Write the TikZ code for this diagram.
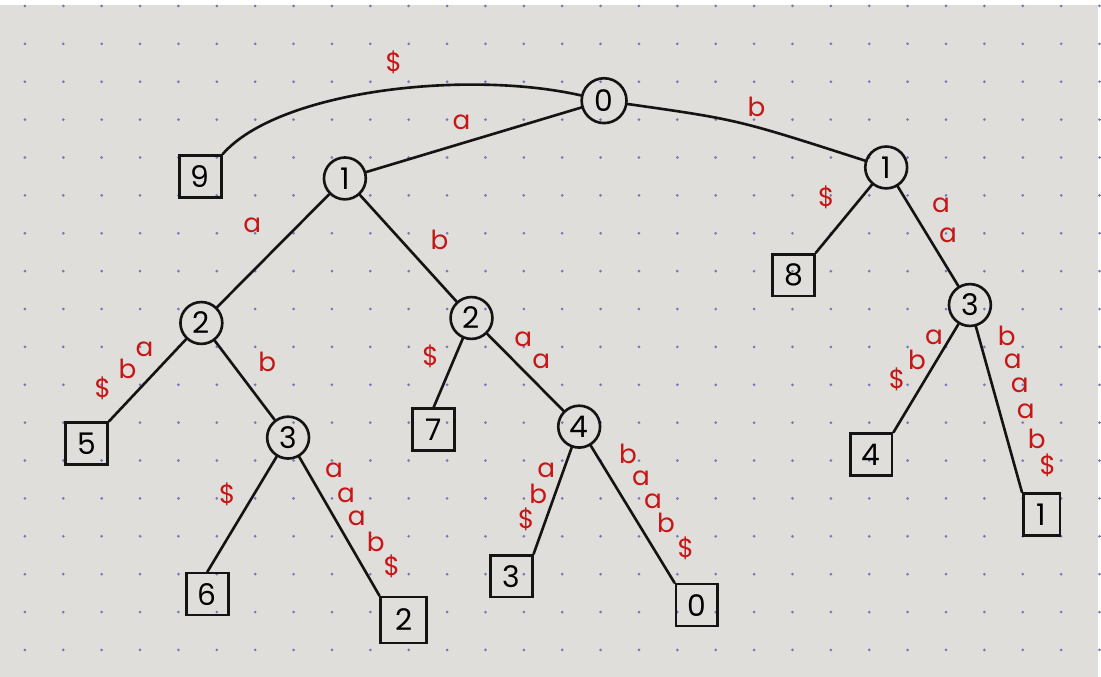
\documentclass[tikz,border=0pt]{standalone}
\usepackage{fontspec}
\setmainfont{Poppins}
\usetikzlibrary{calc}

\definecolor{paper}{RGB}{223,222,218}
\definecolor{dotc}{RGB}{120,120,185}
\definecolor{ink}{RGB}{20,20,20}
\definecolor{pen}{RGB}{198,22,22}

\begin{document}
\begin{tikzpicture}[
                    x=0.02cm, y=-0.02cm, % one unit is one pixel of the sketch
                    inner/.style={circle, draw=ink, line width=1.5pt, minimum size=0.84cm, inner sep=0pt, font=\fontsize{17}{17}\selectfont},
                    leaf/.style={rectangle, draw=ink, line width=1.5pt, minimum size=0.84cm, inner sep=0pt, font=\fontsize{17}{17}\selectfont},
                    branch/.style={draw=ink, line width=1.5pt, line cap=round},
                    lbl/.style={text=pen, inner sep=0pt, font=\fontsize{15}{15}\selectfont}
                ]

                % paper and dot grid
                \fill[paper] (0,0) rectangle (1101,679);
                \fill[white] (0,0) rectangle (1101,5);
                \foreach \i in {0,...,28}
                    \foreach \j in {0,...,17}
                        \fill[dotc] (25+38.5*\i, 6+38*\j) circle (1.5);

                % internal nodes and leaves
                \node[inner, minimum size=0.9cm] (r0) at (606,101) {0};
                \node[leaf] (l9) at (201,177) {9};
                \node[inner] (a1) at (346,179) {1};
                \node[inner] (b1) at (889,168) {1};
                \node[leaf] (l8) at (796,276) {8};
                \node[inner] (b3) at (973,306) {3};
                \node[leaf] (l4) at (874,456) {4};
                \node[leaf, minimum width=0.74cm] (l1) at (1045,516) {1};
                \node[inner] (aa2) at (202,324) {2};
                \node[leaf] (l5) at (87,445) {5};
                \node[inner] (ab3) at (289,439) {3};
                \node[leaf] (l6) at (208,596) {6};
                \node[leaf, minimum size=0.92cm] (l2) at (405,622) {2};
                \node[inner] (ba2) at (473,319) {2};
                \node[leaf] (l7) at (435,431) {7};
                \node[inner] (bb4) at (581,428) {4};
                \node[leaf] (l3) at (513,578) {3};
                \node[leaf] (l0) at (699,607) {0};

                % branches
                \draw[branch] (r0) .. controls (470,70) and (280,90) .. (l9.north east);
                \draw[branch] (r0) -- (a1);
                \draw[branch] (r0) .. controls (740,120) .. (b1);
                \draw[branch] (a1) -- (aa2);
                \draw[branch] (a1) -- (ba2);
                \draw[branch] (aa2) -- (l5.north east);
                \draw[branch] (aa2) -- (ab3);
                \draw[branch] (ab3) -- (l6.north);
                \draw[branch] (ab3) -- (l2.north west);
                \draw[branch] (ba2) -- (l7.north);
                \draw[branch] (ba2) -- (bb4);
                \draw[branch] (bb4) -- (l3.north east);
                \draw[branch] (bb4) -- (l0.north west);
                \draw[branch] (b1) -- (l8.north east);
                \draw[branch] (b1) -- (b3);
                \draw[branch] (b3) -- (l4.north east);
                \draw[branch] (b3) -- (l1.north west);

                % edge letters
                \foreach \p/\t [count=\k] in {
                    {(395,62)}/\$, {(463,123)}/a, {(759,107)}/b,
                    {(253,226)}/a, {(441,241)}/b,
                    {(829,198)}/\$, {(944,206)}/a, {(951,236)}/a,
                    {(103,390)}/\$, {(128,370)}/b, {(145,350)}/a,
                    {(268,363)}/b, {(228,496)}/\$,
                    {(335,472)}/a, {(347,497)}/a, {(358,520)}/a, {(377,544)}/b, {(393,568)}/\$,
                    {(432,357)}/\$, {(525,340)}/a, {(543,362)}/a,
                    {(548,472)}/a, {(540,495)}/b, {(528,521)}/\$,
                    {(630,455)}/b, {(643,480)}/a, {(655,503)}/a, {(668,525)}/b, {(688,550)}/\$,
                    {(900,380)}/\$, {(920,361)}/b, {(937,338)}/a,
                    {(1010,337)}/b, {(1016,362)}/a, {(1023,387)}/a, {(1029,413)}/a, {(1040,440)}/b, {(1051,467)}/\$}
                    \node[lbl] (lab\k) at \p {\t};
            \end{tikzpicture}
\end{document}
